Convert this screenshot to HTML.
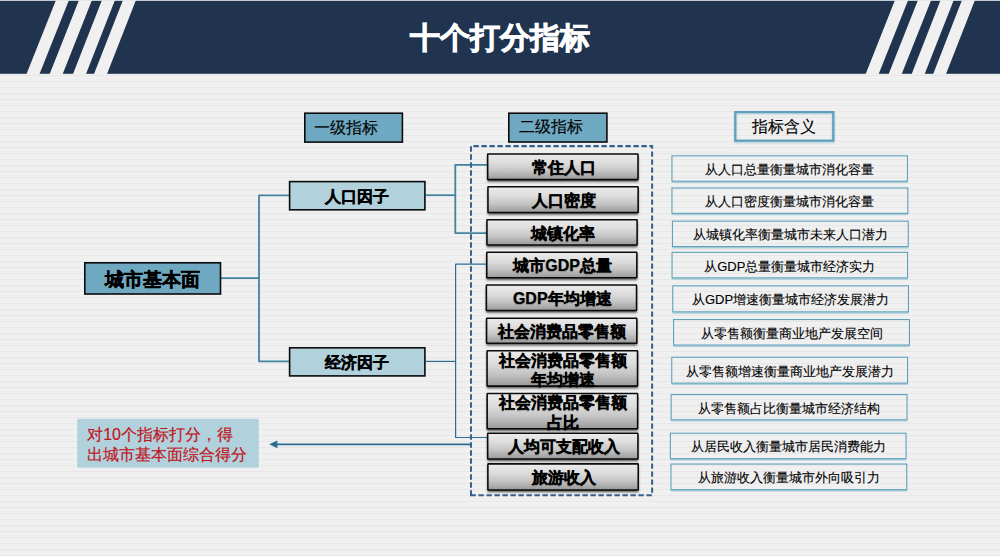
<!DOCTYPE html>
<html lang="zh"><head><meta charset="utf-8"><title>十个打分指标</title>
<style>
html,body{margin:0;padding:0;}
body{width:1000px;height:556px;overflow:hidden;position:relative;font-family:"Liberation Sans",sans-serif;color:#000;
 background:#f0f0f0 repeating-linear-gradient(to bottom,#f0f0f0 0px,#f0f0f0 2.6px,#e7e7e7 3.2px,#e7e7e7 3.8px,#f0f0f0 4.4px,#f0f0f0 6px);}
.abs{position:absolute;box-sizing:border-box;}
.t{position:absolute;white-space:nowrap;text-align:center;line-height:20px;height:20px;}
#title{left:0;top:0;width:1000px;height:74px;line-height:75.4px;text-align:center;color:#fff;font-weight:bold;font-size:29.6px;-webkit-text-stroke:.85px #fff;}
.b16{font-size:16px;font-weight:bold;-webkit-text-stroke:.32px #000;}
.b19{font-weight:bold;-webkit-text-stroke:.4px #000;}
.sec{font-size:16px;font-weight:bold;-webkit-text-stroke:.22px #000;text-shadow:0 1px 1.2px rgba(0,0,0,.28);}
.mean{font-size:13px;-webkit-text-stroke:.12px #000;}
.r16{-webkit-text-stroke:.15px #000;}
</style></head><body>

<svg class="abs" style="left:0;top:0" width="1000" height="556" viewBox="0 0 1000 556">
<defs>
<linearGradient id="g" x1="0" y1="0" x2="0" y2="1"><stop offset="0" stop-color="#ebebeb"/><stop offset=".35" stop-color="#dddddd"/><stop offset=".65" stop-color="#c5c5c5"/><stop offset="1" stop-color="#999999"/></linearGradient>
<filter id="sh" x="-5%" y="-20%" width="110%" height="160%"><feGaussianBlur stdDeviation="1.3"/></filter>
<filter id="sh3" filterUnits="userSpaceOnUse" x="0" y="0" width="1000" height="556"><feGaussianBlur stdDeviation="0.6"/></filter>
<filter id="sh2" x="-5%" y="-20%" width="110%" height="160%"><feGaussianBlur stdDeviation="0.9"/></filter>
</defs>
<rect x="0" y="0" width="1000" height="73.8" fill="#20344f"/>
<g fill="#f0f0f0">
<polygon points="56,0 69,0 39.5,74 26.5,74"/>
<polygon points="79,0 92,0 62.7,74 49.7,74"/>
<polygon points="102,0 115,0 86,74 73,74"/>
<polygon points="123,0 136,0 107,74 94,74"/>
<polygon points="895,0 908.2,0 878.7,74 865.7,74"/>
<polygon points="918,0 931.2,0 901.7,74 888.7,74"/>
<polygon points="940.6,0 953.8,0 924.7,74 911.7,74"/>
<polygon points="962,0 975,0 946,74 933.2,74"/>
</g>
<rect x="0" y="0" width="1000" height="1" fill="#e4e6ea" opacity=".85"/>

<g fill="none" stroke="#4383a0" stroke-width="1.8" stroke-linejoin="round">
<path d="M221,278.2 H259"/>
<path d="M289,195.4 H259 V361.4 H289"/>
<path d="M426,195.2 H455.3"/>
<path d="M487,164.8 H455.3 V233.2 H487"/>
</g>
<g fill="none" stroke="#2a6c93" stroke-width="1.2" stroke-linejoin="round">
<path d="M426,361.4 H455.6"/>
<path d="M487,264.2 H455.6 V437.5 H487"/>
</g>
<path d="M471,444.35 H276" fill="none" stroke="#2c6c90" stroke-width="1.6"/>
<polygon points="269.2,444.35 277.4,440.5 277.4,448.2" fill="#2c6c90"/>
<path d="M471,495.15 V146.1 H652.1 V495.15 Z" fill="none" stroke="#37628f" stroke-width="2.05" stroke-dasharray="5.4 2.6" stroke-dashoffset="0.55"/>

<rect x="77.20" y="418.80" width="181.60" height="48.80" fill="#b1d1dd" stroke="none" stroke-width="0.00"/>
<rect x="304.80" y="113.20" width="97.60" height="28.90" fill="#6fa9c1" stroke="#0b0b0b" stroke-width="1.60"/>
<rect x="508.80" y="113.20" width="98.10" height="28.80" fill="#6fa9c1" stroke="#0b0b0b" stroke-width="1.60"/>
<rect x="84.80" y="262.80" width="135.70" height="31.20" fill="#6fa9c1" stroke="#0b0b0b" stroke-width="1.60"/>
<rect x="289.60" y="181.60" width="135.30" height="28.20" fill="#b1d1dd" stroke="#0b0b0b" stroke-width="1.60"/>
<rect x="289.60" y="347.80" width="135.30" height="28.10" fill="#b1d1dd" stroke="#0b0b0b" stroke-width="1.60"/>
<rect x="735.20" y="113.00" width="98.20" height="28.80" fill="none" stroke="#7fb8cc" stroke-opacity=".7" stroke-width="2" filter="url(#sh2)"/>
<rect x="735.30" y="112.10" width="98.00" height="28.60" fill="none" stroke="#5f9fbc" stroke-width="2.20"/>
<line x1="671.70" y1="182.40" x2="907.70" y2="182.40" stroke="#7fb8cc" stroke-opacity=".6" stroke-width="1.4" filter="url(#sh3)"/>
<rect x="671.95" y="155.85" width="235.50" height="25.40" fill="none" stroke="#5fa2bc" stroke-width="1.10"/>
<line x1="671.70" y1="214.50" x2="908.10" y2="214.50" stroke="#7fb8cc" stroke-opacity=".6" stroke-width="1.4" filter="url(#sh3)"/>
<rect x="671.95" y="187.95" width="235.90" height="25.40" fill="none" stroke="#5fa2bc" stroke-width="1.10"/>
<line x1="672.20" y1="247.70" x2="908.50" y2="247.70" stroke="#7fb8cc" stroke-opacity=".6" stroke-width="1.4" filter="url(#sh3)"/>
<rect x="672.45" y="221.15" width="235.80" height="25.40" fill="none" stroke="#5fa2bc" stroke-width="1.10"/>
<line x1="671.80" y1="279.00" x2="907.80" y2="279.00" stroke="#7fb8cc" stroke-opacity=".6" stroke-width="1.4" filter="url(#sh3)"/>
<rect x="672.05" y="252.35" width="235.50" height="25.50" fill="none" stroke="#5fa2bc" stroke-width="1.10"/>
<line x1="672.50" y1="313.00" x2="908.70" y2="313.00" stroke="#7fb8cc" stroke-opacity=".6" stroke-width="1.4" filter="url(#sh3)"/>
<rect x="672.75" y="285.85" width="235.70" height="26.00" fill="none" stroke="#5fa2bc" stroke-width="1.10"/>
<line x1="673.30" y1="346.20" x2="909.70" y2="346.20" stroke="#7fb8cc" stroke-opacity=".6" stroke-width="1.4" filter="url(#sh3)"/>
<rect x="673.55" y="319.55" width="235.90" height="25.50" fill="none" stroke="#5fa2bc" stroke-width="1.10"/>
<line x1="671.50" y1="384.30" x2="907.80" y2="384.30" stroke="#7fb8cc" stroke-opacity=".6" stroke-width="1.4" filter="url(#sh3)"/>
<rect x="671.75" y="357.25" width="235.80" height="25.90" fill="none" stroke="#5fa2bc" stroke-width="1.10"/>
<line x1="670.90" y1="420.90" x2="907.30" y2="420.90" stroke="#7fb8cc" stroke-opacity=".6" stroke-width="1.4" filter="url(#sh3)"/>
<rect x="671.15" y="394.55" width="235.90" height="25.20" fill="none" stroke="#5fa2bc" stroke-width="1.10"/>
<line x1="670.10" y1="459.80" x2="906.30" y2="459.80" stroke="#7fb8cc" stroke-opacity=".6" stroke-width="1.4" filter="url(#sh3)"/>
<rect x="670.35" y="433.25" width="235.70" height="25.40" fill="none" stroke="#5fa2bc" stroke-width="1.10"/>
<line x1="670.70" y1="490.80" x2="907.00" y2="490.80" stroke="#7fb8cc" stroke-opacity=".6" stroke-width="1.4" filter="url(#sh3)"/>
<rect x="670.95" y="464.05" width="235.80" height="25.60" fill="none" stroke="#5fa2bc" stroke-width="1.10"/>
<rect x="487.40" y="156.20" width="150.90" height="25.70" fill="#000" fill-opacity=".62" filter="url(#sh)"/>
<rect x="487.67" y="153.97" width="150.35" height="25.65" fill="url(#g)" stroke="#0a0a0a" stroke-width="1.55" rx="0.5"/>
<rect x="487.70" y="188.90" width="150.70" height="25.90" fill="#000" fill-opacity=".62" filter="url(#sh)"/>
<rect x="487.97" y="186.68" width="150.15" height="25.85" fill="url(#g)" stroke="#0a0a0a" stroke-width="1.55" rx="0.5"/>
<rect x="486.70" y="221.90" width="150.70" height="25.40" fill="#000" fill-opacity=".62" filter="url(#sh)"/>
<rect x="486.97" y="219.68" width="150.15" height="25.35" fill="url(#g)" stroke="#0a0a0a" stroke-width="1.55" rx="0.5"/>
<rect x="486.50" y="254.50" width="150.60" height="25.60" fill="#000" fill-opacity=".62" filter="url(#sh)"/>
<rect x="486.77" y="252.28" width="150.05" height="25.55" fill="url(#g)" stroke="#0a0a0a" stroke-width="1.55" rx="0.5"/>
<rect x="486.10" y="287.20" width="150.70" height="25.60" fill="#000" fill-opacity=".62" filter="url(#sh)"/>
<rect x="486.38" y="284.97" width="150.15" height="25.55" fill="url(#g)" stroke="#0a0a0a" stroke-width="1.55" rx="0.5"/>
<rect x="486.30" y="320.40" width="150.80" height="25.10" fill="#000" fill-opacity=".62" filter="url(#sh)"/>
<rect x="486.57" y="318.17" width="150.25" height="25.05" fill="url(#g)" stroke="#0a0a0a" stroke-width="1.55" rx="0.5"/>
<rect x="486.80" y="352.90" width="151.00" height="35.50" fill="#000" fill-opacity=".62" filter="url(#sh)"/>
<rect x="487.07" y="350.67" width="150.45" height="35.45" fill="url(#g)" stroke="#0a0a0a" stroke-width="1.55" rx="0.5"/>
<rect x="486.90" y="395.70" width="151.00" height="35.40" fill="#000" fill-opacity=".62" filter="url(#sh)"/>
<rect x="487.17" y="393.47" width="150.45" height="35.35" fill="url(#g)" stroke="#0a0a0a" stroke-width="1.55" rx="0.5"/>
<rect x="487.40" y="435.50" width="150.80" height="25.80" fill="#000" fill-opacity=".62" filter="url(#sh)"/>
<rect x="487.67" y="433.27" width="150.25" height="25.75" fill="url(#g)" stroke="#0a0a0a" stroke-width="1.55" rx="0.5"/>
<rect x="487.60" y="466.10" width="150.90" height="26.10" fill="#000" fill-opacity=".62" filter="url(#sh)"/>
<rect x="487.88" y="463.88" width="150.35" height="26.05" fill="url(#g)" stroke="#0a0a0a" stroke-width="1.55" rx="0.5"/>
</svg>
<div class="abs" id="title">十个打分指标</div>
<div class="t r16" style="left:304.0px;top:117.5px;width:99.2px;font-size:16px;text-align:left;padding-left:10px;">一级指标</div>
<div class="t r16" style="left:508.0px;top:117.4px;width:99.7px;font-size:16px;text-align:left;padding-left:11px;">二级指标</div>
<div class="t r16" style="left:734.2px;top:116.8px;width:100.2px;font-size:16px;">指标含义</div>
<div class="t b19" style="left:84.0px;top:269.9px;width:137.3px;font-size:19px;">城市基本面</div>
<div class="t b16" style="left:288.8px;top:186.6px;width:136.9px;">人口因子</div>
<div class="t b16" style="left:288.8px;top:352.8px;width:136.9px;">经济因子</div>
<div class="abs" style="left:87.2px;top:424.6px;color:#c0161d;font-size:16px;line-height:20.4px;white-space:nowrap;-webkit-text-stroke:.2px #c0161d;">对10个指标打分，得<br>出城市基本面综合得分</div>
<div class="t sec" style="left:487.7px;top:157.9px;width:151.9px;">常住人口</div>
<div class="t sec" style="left:488.0px;top:190.7px;width:151.7px;">人口密度</div>
<div class="t sec" style="left:487.0px;top:223.5px;width:151.7px;">城镇化率</div>
<div class="t sec" style="left:486.8px;top:256.2px;width:151.6px;">城市GDP总量</div>
<div class="t sec" style="left:486.4px;top:288.9px;width:151.7px;">GDP年均增速</div>
<div class="t sec" style="left:486.6px;top:321.8px;width:151.8px;">社会消费品零售额</div>
<div class="t sec" style="left:487.1px;top:350.6px;width:152.0px;">社会消费品零售额</div>
<div class="t sec" style="left:487.1px;top:369.9px;width:152.0px;">年均增速</div>
<div class="t sec" style="left:487.2px;top:393.3px;width:152.0px;">社会消费品零售额</div>
<div class="t sec" style="left:487.2px;top:412.6px;width:152.0px;">占比</div>
<div class="t sec" style="left:487.7px;top:437.2px;width:151.8px;">人均可支配收入</div>
<div class="t sec" style="left:487.9px;top:468.0px;width:151.9px;">旅游收入</div>
<div class="t mean" style="left:671.4px;top:160.1px;width:236.6px;">从人口总量衡量城市消化容量</div>
<div class="t mean" style="left:671.4px;top:192.2px;width:237.0px;">从人口密度衡量城市消化容量</div>
<div class="t mean" style="left:671.9px;top:225.3px;width:236.9px;">从城镇化率衡量城市未来人口潜力</div>
<div class="t mean" style="left:671.5px;top:256.6px;width:236.6px;">从GDP总量衡量城市经济实力</div>
<div class="t mean" style="left:672.2px;top:290.4px;width:236.8px;">从GDP增速衡量城市经济发展潜力</div>
<div class="t mean" style="left:673.0px;top:323.8px;width:237.0px;">从零售额衡量商业地产发展空间</div>
<div class="t mean" style="left:671.2px;top:361.7px;width:236.9px;">从零售额增速衡量商业地产发展潜力</div>
<div class="t mean" style="left:670.6px;top:398.6px;width:237.0px;">从零售额占比衡量城市经济结构</div>
<div class="t mean" style="left:669.8px;top:437.4px;width:236.8px;">从居民收入衡量城市居民消费能力</div>
<div class="t mean" style="left:670.4px;top:468.4px;width:236.9px;">从旅游收入衡量城市外向吸引力</div>
</body></html>
